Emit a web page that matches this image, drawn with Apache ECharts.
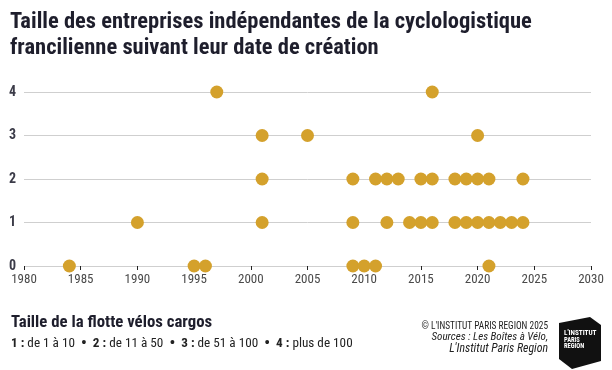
<!DOCTYPE html>
<html><head><meta charset="utf-8">
<script src="https://cdn.jsdelivr.net/npm/echarts@6/dist/echarts.min.js"></script>
<style>html,body{margin:0;padding:0;background:#fff}#c{width:612px;height:370px}</style>
</head><body><div id="c"></div>
<script>
const xTicks = [1980, 1985, 1990, 1995, 2000, 2005, 2010, 2015, 2020, 2025, 2030];
const yTicks = [0, 1, 2, 3, 4];
const years4 = [1997, 2016];
const years3 = [2001, 2005, 2020];
const years2 = [2001, 2009, 2011, 2012, 2013, 2015, 2016, 2018, 2019, 2020, 2021, 2024];
const years1 = [1990, 2001, 2009, 2012, 2014, 2015, 2016, 2018, 2019, 2020, 2021, 2022, 2023, 2024];
const years0 = [1984, 1995, 1996, 2009, 2010, 2011, 2021];

const data = [];
[[years0,0],[years1,1],[years2,2],[years3,3],[years4,4]].forEach(([ys,l])=>ys.forEach(y=>data.push([y,l])));

const F = '"Roboto Condensed",Roboto,sans-serif';
const chart = echarts.init(document.getElementById('c'), null, {renderer:'canvas'});
chart.setOption({
  animation:false,
  grid:{left:24, right:21, top:92, bottom:104, containLabel:false},
  xAxis:{type:'value', min:xTicks[0], max:xTicks[xTicks.length-1], interval:5,
    axisLine:{show:false},
    axisTick:{show:true, length:4, lineStyle:{color:'#222', width:1}},
    axisLabel:{color:'#4a4a4a', fontFamily:F, fontSize:13, margin:7, formatter:v=>String(v)},
    splitLine:{show:false}},
  yAxis:{type:'value', min:yTicks[0], max:yTicks[yTicks.length-1], interval:1,
    axisLine:{show:false}, axisTick:{show:false},
    axisLabel:{color:'#3b3b48', fontFamily:F, fontSize:14, fontWeight:'bold', margin:8, padding:[0,0,6,0]},
    splitLine:{show:true, lineStyle:{color:'#cfcfcf', width:1}}},
  series:[{type:'scatter', data:data, symbolSize:13, itemStyle:{color:'#D4A12C', opacity:1}}],
  graphic:[
    {type:'text', left:10, top:9, style:{text:'Taille des entreprises indépendantes de la cyclologistique\nfrancilienne suivant leur date de création', font:'bold 22.5px '+F, fill:'#1e1e2c', lineHeight:26}},
    {type:'text', left:11, top:314, style:{text:'Taille de la flotte vélos cargos', font:'bold 16.8px '+F, fill:'#1e1e2c'}},
    {type:'text', left:11, top:336, style:{
      text:'{b|1 :} de 1 à 10  {d|•}  {b|2 :} de 11 à 50  {d|•}  {b|3 :} de 51 à 100  {d|•}  {b|4 :} plus de 100',
      font:'13.2px '+F, fill:'#222',
      rich:{b:{fontFamily:F, fontSize:13.2, fontWeight:'bold', fill:'#222'}, d:{fontFamily:F, fontSize:16, fontWeight:'bold', fill:'#222'}}}},
    {type:'text', x:548, y:321, scaleX:0.85, style:{text:'© L\'INSTITUT PARIS REGION 2025', font:'11px '+F, fill:'#222', align:'right'}},
    {type:'text', x:548, y:332, style:{text:'Sources : Les Boîtes à Vélo,', font:'italic 11px '+F, fill:'#222', align:'right'}},
    {type:'text', x:548, y:343, style:{text:'L\'Institut Paris Region', font:'italic 11.8px '+F, fill:'#222', align:'right'}},
    {type:'polygon', shape:{points:[[559,323],[590,317],[601,325],[601,361],[572,369],[559,359]]}, style:{fill:'#111'}},
    {type:'text', x:564, y:329, scaleX:0.9, style:{text:'L\'INSTITUT', font:'bold 8px '+F, fill:'#fff'}},
    {type:'text', x:564, y:338, style:{text:'PARIS\nREGION', font:'bold 6.5px '+F, fill:'#fff', lineHeight:5.5}}
  ]
});
</script></body></html>
